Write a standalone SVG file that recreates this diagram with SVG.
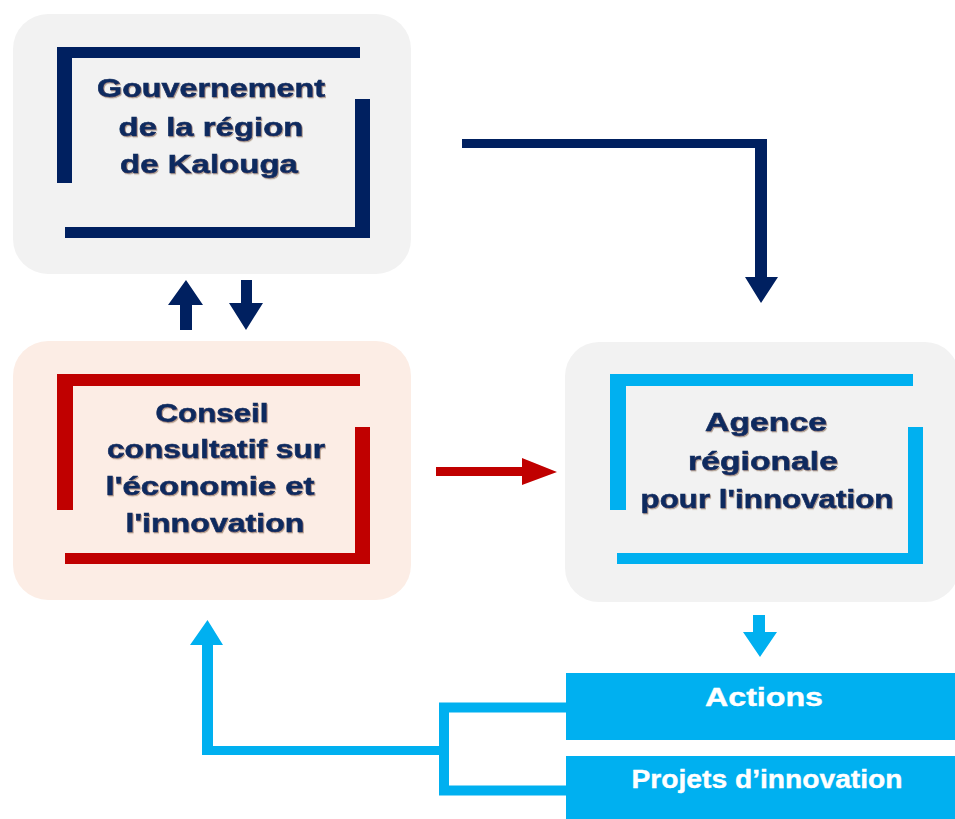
<svg xmlns="http://www.w3.org/2000/svg" width="955" height="819" viewBox="0 0 955 819">
<defs>
<style>
.bg{fill:#F2F2F2}
.peach{fill:#FCEDE5}
.navy{fill:#002060}
.red{fill:#C00000}
.cyan{fill:#00B0F0}
.t{font-family:"Liberation Sans",Arial,sans-serif;font-weight:bold;font-size:26px;fill:#0E2A5E;stroke:#0E2A5E;stroke-width:0.6;text-anchor:middle;filter:url(#sh)}
.w{font-family:"Liberation Sans",Arial,sans-serif;font-weight:bold;font-size:25px;fill:#FFFFFF;stroke:#FFFFFF;stroke-width:0.4;text-anchor:middle}
.cl{fill:none;stroke:#00B0F0;stroke-width:10}
</style>
<filter id="sh" x="-5%" y="-20%" width="110%" height="140%">
<feDropShadow dx="1" dy="1.2" stdDeviation="0.6" flood-color="#7a5a40" flood-opacity="0.55"/>
</filter>
</defs>

<g id="gouvernement">
<rect class="bg" x="13" y="14" width="398" height="260" rx="35"/>
<rect class="navy" x="57" y="47" width="303" height="11"/>
<rect class="navy" x="57" y="47" width="15" height="136"/>
<rect class="navy" x="65" y="227" width="305" height="11"/>
<rect class="navy" x="355" y="99" width="15" height="139"/>
<text class="t" x="211" y="97" textLength="228" lengthAdjust="spacingAndGlyphs">Gouvernement</text>
<text class="t" x="211" y="136" textLength="185" lengthAdjust="spacingAndGlyphs">de la région</text>
<text class="t" x="209" y="173" textLength="178" lengthAdjust="spacingAndGlyphs">de Kalouga</text>
</g>

<g id="conseil">
<rect class="peach" x="13" y="341" width="398" height="259" rx="35"/>
<rect class="red" x="57" y="374" width="303" height="12"/>
<rect class="red" x="57" y="374" width="16" height="136"/>
<rect class="red" x="65" y="553" width="305" height="11"/>
<rect class="red" x="355" y="427" width="15" height="137"/>
<text class="t" x="212" y="422" textLength="113" lengthAdjust="spacingAndGlyphs">Conseil</text>
<text class="t" x="216" y="458" textLength="218" lengthAdjust="spacingAndGlyphs">consultatif sur</text>
<text class="t" x="210" y="495" textLength="209" lengthAdjust="spacingAndGlyphs">l'économie et</text>
<text class="t" x="215" y="532" textLength="179" lengthAdjust="spacingAndGlyphs">l'innovation</text>
</g>

<g id="agence">
<rect class="bg" x="565" y="342" width="394" height="260" rx="34"/>
<rect class="cyan" x="610" y="374" width="303" height="12"/>
<rect class="cyan" x="610" y="374" width="16" height="136"/>
<rect class="cyan" x="617" y="553" width="306" height="11"/>
<rect class="cyan" x="908" y="427" width="15" height="137"/>
<text class="t" x="766" y="431" textLength="122" lengthAdjust="spacingAndGlyphs">Agence</text>
<text class="t" x="763" y="470" textLength="150" lengthAdjust="spacingAndGlyphs">régionale</text>
<text class="t" x="767" y="508" textLength="253" lengthAdjust="spacingAndGlyphs">pour l'innovation</text>
</g>

<g id="actions">
<rect class="cyan" x="566" y="673" width="395" height="67"/>
<text class="w" x="764" y="706" textLength="118" lengthAdjust="spacingAndGlyphs">Actions</text>
</g>

<g id="projets">
<rect class="cyan" x="566" y="756" width="395" height="70"/>
<text class="w" x="767" y="788" textLength="271" lengthAdjust="spacingAndGlyphs">Projets d’innovation</text>
</g>

<g id="connectors">
<!-- Gouvernement to Agence -->
<polygon class="navy" points="462,139 767,139 767,277 778,277 761,303 745,277 755,277 755,148 462,148"/>
<!-- up arrow -->
<polygon class="navy" points="180,330 192,330 192,305 203,305 186,280 168,305 180,305"/>
<!-- down arrow -->
<polygon class="navy" points="241,280 252,280 252,303 263,303 246,330 229,303 241,303"/>
<!-- red arrow -->
<polygon class="red" points="436,467 522,467 522,458 557,472 522,485 522,476 436,476"/>
<!-- cyan down arrow -->
<polygon class="cyan" points="753,615 765,615 765,632 777,632 760,657 743,632 753,632"/>
<!-- bracket from boxes -->
<polyline class="cl" points="566,707.5 444,707.5 444,790.5 566,790.5"/>
<!-- feed back to conseil -->
<polygon class="cyan" points="444,746 444,755 202,755 202,645 190,645 207.5,620 223,645 213,645 213,746"/>
</g>
</svg>
